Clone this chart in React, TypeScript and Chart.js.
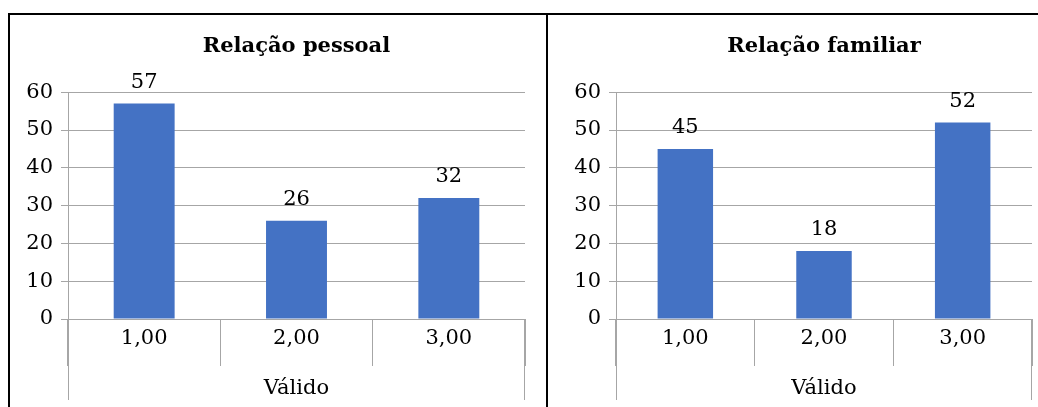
import React, { useEffect, useRef } from 'react';
import { Chart, registerables } from 'chart.js';

Chart.register(...registerables);

const categories = ['1,00', '2,00', '3,00'];
const pessoalValues = [57, 26, 32];
const familiarValues = [45, 18, 52];
const yMin = 0;
const yMax = 60;
const yStep = 10;
const chartTitles = ['Relação pessoal', 'Relação familiar'];
const axisTitle = 'Válido';

const FONT = "'DejaVu Serif', serif";
const GRID = '#a6a6a6';
const BAR = '#4472c4';
const TEXT = '#000000';

const valueLabels = {
  id: 'valueLabels',
  afterDatasetsDraw(chart: any) {
    const ctx = chart.ctx;
    ctx.save();
    ctx.font = `21px ${FONT}`;
    ctx.fillStyle = TEXT;
    ctx.textAlign = 'center';
    ctx.textBaseline = 'middle';
    chart.data.datasets.forEach((ds: any, i: number) => {
      const meta = chart.getDatasetMeta(i);
      meta.data.forEach((bar: any, j: number) => {
        ctx.fillText(String(ds.data[j]), bar.x, bar.y - 21);
      });
    });
    ctx.restore();
  },
};

const axisFrame = {
  id: 'axisFrame',
  afterDraw(chart: any) {
    const { ctx, chartArea } = chart;
    ctx.save();
    ctx.strokeStyle = GRID;
    ctx.lineWidth = 1;
    ctx.beginPath();
    const l = Math.round(chartArea.left) + 0.5;
    const r = Math.round(chartArea.right) - 0.5;
    ctx.moveTo(l, chartArea.bottom);
    ctx.lineTo(l, chartArea.bottom + 81);
    ctx.moveTo(r, chartArea.bottom);
    ctx.lineTo(r, chartArea.bottom + 81);
    ctx.stroke();
    ctx.restore();
  },
};

function BarChart(props: { title: string; values: number[]; width: number; height: number; yWidth: number; rightPad: number }) {
  const ref = useRef<HTMLCanvasElement>(null);
  useEffect(() => {
    if (!ref.current) return;
    const chart = new Chart(ref.current, {
      type: 'bar',
      data: {
        labels: categories,
        datasets: [
          {
            data: props.values,
            backgroundColor: BAR,
            borderWidth: 0,
            barPercentage: 1,
            categoryPercentage: 0.4,
          },
        ],
      },
      options: {
        responsive: false,
        animation: false,
        devicePixelRatio: 1,
        layout: { padding: { left: 0, right: props.rightPad, top: 0, bottom: 0 } },
        plugins: {
          legend: { display: false },
          tooltip: { enabled: false },
          title: {
            display: true,
            text: props.title,
            fullSize: false,
            color: TEXT,
            font: { family: FONT, size: 21, weight: 'bold' },
            padding: { top: 19, bottom: 33 },
          },
        },
        scales: {
          x: {
            grid: {
              offset: true,
              drawOnChartArea: false,
              drawTicks: true,
              tickLength: 47,
              color: GRID,
            },
            border: { display: true, color: GRID },
            ticks: {
              color: TEXT,
              font: { family: FONT, size: 21 },
              padding: -40,
              maxRotation: 0,
            },
            title: {
              display: true,
              text: axisTitle,
              color: TEXT,
              font: { family: FONT, size: 21 },
              padding: { top: 0, bottom: 6 },
            },
            afterFit(scale: any) {
              scale.height = 88;
            },
          },
          y: {
            min: yMin,
            max: yMax,
            ticks: {
              stepSize: yStep,
              color: TEXT,
              font: { family: FONT, size: 21 },
              padding: 8,
            },
            grid: { color: GRID, tickLength: 7, drawTicks: true },
            border: { display: true, color: GRID },
            afterFit(scale: any) {
              scale.width = props.yWidth;
            },
          },
        },
      },
      plugins: [valueLabels, axisFrame],
    } as any);
    return () => chart.destroy();
  }, []);
  return <canvas ref={ref} width={props.width} height={props.height} style={{ width: props.width, height: props.height, display: 'block' }} />;
}

export default function App() {
  return (
    <div style={{ position: 'fixed', left: 0, top: 0, width: 1038, height: 407, overflow: 'hidden', background: '#fff' }}>
      <div style={{ position: 'absolute', left: 8, top: 13, width: 1030, height: 2, background: '#000' }} />
      <div style={{ position: 'absolute', left: 8, top: 13, width: 2, height: 394, background: '#000' }} />
      <div style={{ position: 'absolute', left: 546, top: 13, width: 2, height: 394, background: '#000' }} />
      <div style={{ position: 'absolute', left: 10, top: 15 }}>
        <BarChart title={chartTitles[0]} values={pessoalValues} width={536} height={392} yWidth={58} rightPad={21} />
      </div>
      <div style={{ position: 'absolute', left: 548, top: 15 }}>
        <BarChart title={chartTitles[1]} values={familiarValues} width={490} height={392} yWidth={68} rightPad={6} />
      </div>
    </div>
  );
}
